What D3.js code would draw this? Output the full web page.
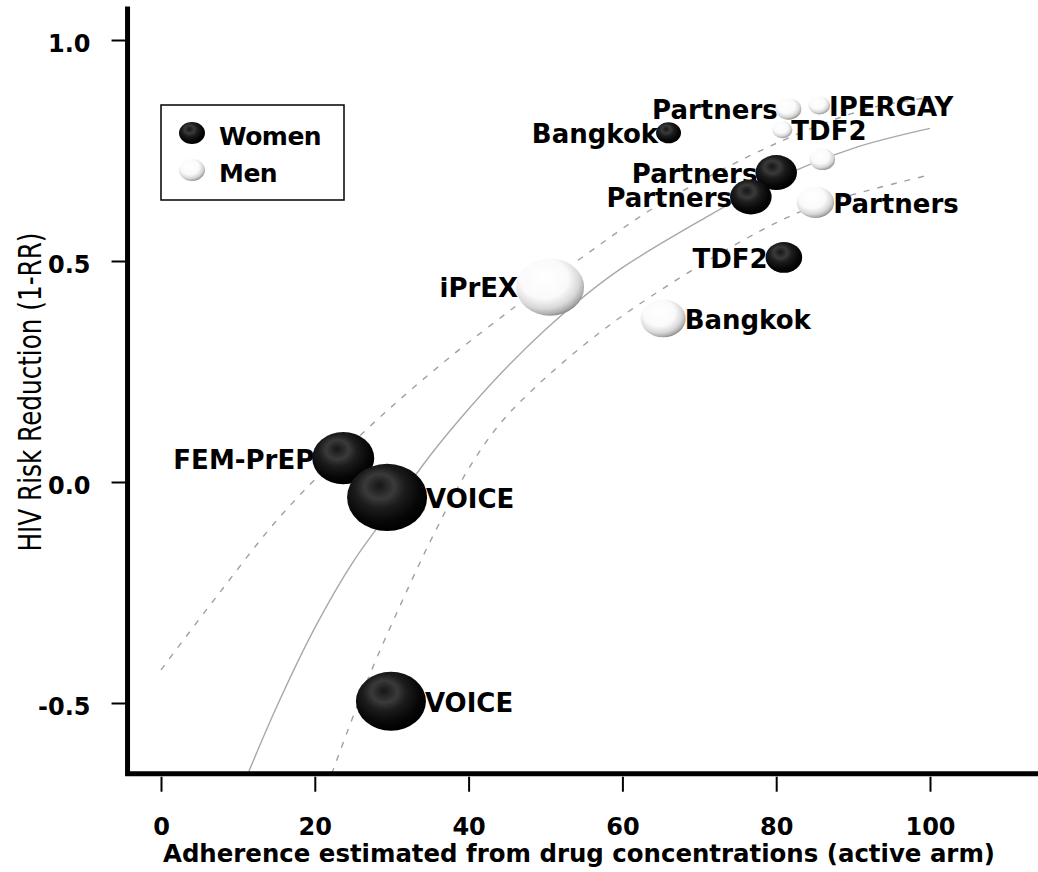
<!DOCTYPE html>
<html>
<head>
<meta charset="utf-8">
<script src="https://cdn.jsdelivr.net/npm/d3@7/dist/d3.min.js"></script>
<style>
  body { margin: 0; background: #fff; }
  text { font-family: "DejaVu Sans", sans-serif; }
</style>
</head>
<body>
<script>
// Women (black spheres)
var womenNames     = ["Bangkok", "Partners", "Partners", "TDF2", "FEM-PrEP", "VOICE", "VOICE"];
var womenAdherence = [66.0, 80.0, 76.7, 81.0, 23.7, 29.4, 29.9];
var womenReduction = [0.79, 0.70, 0.645, 0.508, 0.054, -0.035, -0.496];
var womenWeight    = [156, 433, 433, 335, 961, 1600, 1225];
var womenSide      = ["left", "left", "left", "left", "left", "right", "right"];

// Men (white spheres)
var menNames     = ["Partners", "IPERGAY", "TDF2", "", "Partners", "iPrEX", "Bangkok"];
var menAdherence = [81.6, 85.6, 80.8, 86.0, 85.1, 50.6, 65.3];
var menReduction = [0.844, 0.852, 0.797, 0.730, 0.633, 0.441, 0.37];
var menWeight    = [164, 117, 100, 164, 350, 1156, 506];
var menSide      = ["left", "right", "right", "right", "right", "left", "right"];

// fitted curve and its bounds
var fitAdherence   = [11.3, 15, 20, 25, 30, 35, 40, 45, 50, 55, 60, 70, 80, 90, 100];
var fitReduction   = [-0.66, -0.51, -0.33, -0.18, -0.06, 0.06, 0.165, 0.26, 0.345, 0.42, 0.485, 0.59, 0.685, 0.755, 0.80];
var upperAdherence = [0, 7.2, 15.9, 26.8, 36.7, 46.3, 54.9, 65, 80.5, 92, 100];
var upperReduction = [-0.425, -0.26, -0.07, 0.12, 0.27, 0.40, 0.51, 0.63, 0.77, 0.845, 0.87];
var lowerAdherence = [22.2, 26.8, 32.4, 36, 40, 44, 48.4, 55, 62, 75.5, 84.4, 100];
var lowerReduction = [-0.66, -0.45, -0.23, -0.10, 0.03, 0.13, 0.21, 0.31, 0.40, 0.545, 0.62, 0.695];

var xTicks = [0, 20, 40, 60, 80, 100];
var yTicks = [-0.5, 0.0, 0.5, 1.0];
var yTickLabels = ["-0.5", "0.0", "0.5", "1.0"];

var width = 1038, height = 872;

var x = d3.scaleLinear().domain([0, 100]).range([161, 930]);
var y = d3.scaleLinear().domain([-0.5, 1.0]).range([703, 40]);
var r = d3.scaleSqrt().domain([0, 1600]).range([0, 40]);

var plotLeft = x(-4.35), plotBottom = y(-0.66), plotTop = y(1.07), plotRight = width;

var svg = d3.select("body").append("svg")
    .attr("width", width)
    .attr("height", height);

var defs = svg.append("defs");

var gb = defs.append("radialGradient").attr("id", "blackBall")
    .attr("cx", 0.42).attr("cy", 0.38).attr("r", 0.62).attr("fx", 0.4).attr("fy", 0.32);
[[0, "#161616"], [0.3, "#3a3a3a"], [0.5, "#1c1c1c"], [0.8, "#070707"], [1, "#000"]].forEach(function(s) {
  gb.append("stop").attr("offset", s[0]).attr("stop-color", s[1]);
});

var gw = defs.append("radialGradient").attr("id", "whiteBall")
    .attr("cx", 0.42).attr("cy", 0.38).attr("r", 0.64).attr("fx", 0.4).attr("fy", 0.32);
[[0, "#fff"], [0.55, "#fafafa"], [0.8, "#d8d8d8"], [0.93, "#aeaeae"], [1, "#888"]].forEach(function(s) {
  gw.append("stop").attr("offset", s[0]).attr("stop-color", s[1]);
});

defs.append("clipPath").attr("id", "plotClip")
  .append("rect")
    .attr("x", plotLeft).attr("y", plotTop)
    .attr("width", plotRight - plotLeft).attr("height", plotBottom - plotTop);

// curves
var line = d3.line()
    .x(function(d) { return x(d[0]); })
    .y(function(d) { return y(d[1]); })
    .curve(d3.curveCatmullRom.alpha(0.5));

var curves = svg.append("g").attr("clip-path", "url(#plotClip)");

curves.append("path")
    .attr("d", line(d3.zip(fitAdherence, fitReduction)))
    .style("fill", "none")
    .style("stroke", "#a8a8a8")
    .style("stroke-width", 1.4);

[d3.zip(upperAdherence, upperReduction), d3.zip(lowerAdherence, lowerReduction)].forEach(function(pts) {
  curves.append("path")
      .attr("d", line(pts))
      .style("fill", "none")
      .style("stroke", "#a0a0a0")
      .style("stroke-width", 1.4)
      .style("stroke-dasharray", "6,8");
});

// axes
var yAxis = svg.append("g")
    .attr("transform", "translate(" + (plotLeft) + ",0)")
    .call(d3.axisLeft(y).tickValues(yTicks).tickSize(16).tickPadding(21)
      .tickFormat(function(d, i) { return yTickLabels[i]; }));
yAxis.select(".domain").remove();
yAxis.selectAll(".tick line").style("stroke", "#000").style("stroke-width", 2);
yAxis.selectAll(".tick text")
    .attr("dy", "0.48em")
    .style("font-family", "DejaVu Sans")
    .style("font-size", "24px")
    .style("font-weight", "bold")
    .style("fill", "#000");

var xAxis = svg.append("g")
    .attr("transform", "translate(0," + (plotBottom + 3) + ")")
    .call(d3.axisBottom(x).tickValues(xTicks).tickSize(15).tickFormat(d3.format("d")));
xAxis.select(".domain").remove();
xAxis.selectAll(".tick line").style("stroke", "#000").style("stroke-width", 2);
xAxis.selectAll(".tick text")
    .attr("y", 58).attr("dy", 0)
    .style("font-family", "DejaVu Sans")
    .style("font-size", "24px")
    .style("font-weight", "bold")
    .style("fill", "#000");

// L-shaped box
svg.append("path")
    .attr("d", "M" + plotLeft + "," + plotTop + "V" + plotBottom + "H" + plotRight)
    .style("fill", "none")
    .style("stroke", "#000")
    .style("stroke-width", 5)
    .style("stroke-linecap", "square");

// axis titles
svg.append("text")
    .attr("x", 579).attr("y", 862)
    .attr("text-anchor", "middle")
    .attr("textLength", 832).attr("lengthAdjust", "spacingAndGlyphs")
    .style("font-size", "25px").style("font-weight", "bold")
    .text("Adherence estimated from drug concentrations (active arm)");

svg.append("text")
    .attr("transform", "translate(41,392) rotate(-90)")
    .attr("text-anchor", "middle")
    .attr("textLength", 319).attr("lengthAdjust", "spacingAndGlyphs")
    .style("font-size", "32px")
    .text("HIV Risk Reduction (1-RR)");

// points
function drawGroup(names, adh, red, wt, side, fill) {
  var data = names.map(function(n, i) {
    return { name: n, x: adh[i], y: red[i], w: wt[i], side: side[i] };
  });
  var g = svg.append("g");
  data.forEach(function(d) {
    var rx = r(d.w), ry = rx * 0.84;
    if (d.name) {
      g.append("text")
          .attr("x", d.side === "left" ? x(d.x) - rx + 2 : x(d.x) + rx - 1)
          .attr("y", y(d.y))
          .attr("dy", "0.4em")
          .attr("text-anchor", d.side === "left" ? "end" : "start")
          .style("font-size", "26px")
          .style("font-weight", "bold")
          .text(d.name);
    }
    g.append("ellipse")
        .attr("cx", x(d.x))
        .attr("cy", y(d.y))
        .attr("rx", rx)
        .attr("ry", ry)
        .style("fill", fill);
  });
}

drawGroup(womenNames, womenAdherence, womenReduction, womenWeight, womenSide, "url(#blackBall)");
drawGroup(menNames, menAdherence, menReduction, menWeight, menSide, "url(#whiteBall)");

// legend
var legend = svg.append("g");
legend.append("rect")
    .attr("x", 161).attr("y", 105)
    .attr("width", 183).attr("height", 95)
    .style("fill", "#fff")
    .style("stroke", "#000")
    .style("stroke-width", 1.5);

var legendItems = [["Women", "url(#blackBall)"], ["Men", "url(#whiteBall)"]];
legendItems.forEach(function(it, i) {
  legend.append("ellipse")
      .attr("cx", 192).attr("cy", 133 + i * 37)
      .attr("rx", 13).attr("ry", 11)
      .style("fill", it[1]);
  legend.append("text")
      .attr("x", 219).attr("y", 145 + i * 37)
      .style("font-size", "25px").style("font-weight", "bold")
      .style("letter-spacing", "-0.5px")
      .text(it[0]);
});
</script>
</body>
</html>
